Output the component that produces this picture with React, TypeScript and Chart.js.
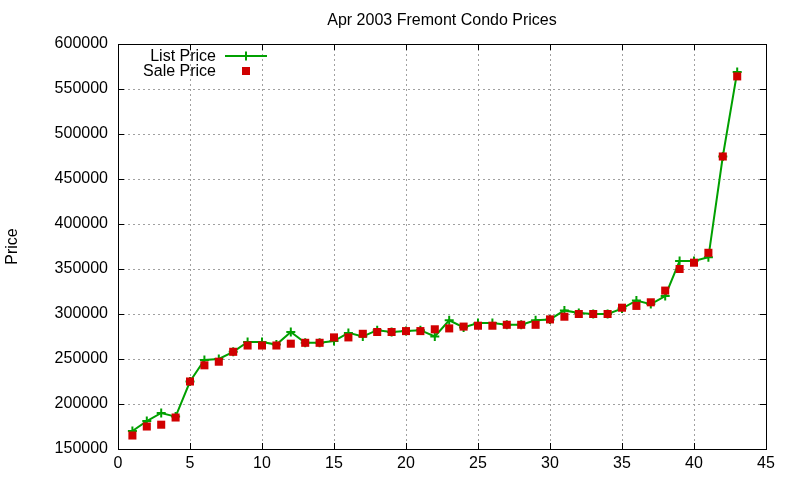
import React, { useEffect, useRef } from "react";
import { Chart, registerables } from "chart.js";

Chart.register(...registerables);

const TITLE = "Apr 2003 Fremont Condo Prices";
const Y_TITLE = "Price";
const LIST_LABEL = "List Price";
const SALE_LABEL = "Sale Price";

// unit number along the x axis (sorted by price)
const units = [
  1, 2, 3, 4, 5, 6, 7, 8, 9, 10, 11, 12, 13, 14, 15, 16, 17, 18, 19, 20, 21,
  22, 23, 24, 25, 26, 27, 28, 29, 30, 31, 32, 33, 34, 35, 36, 37, 38, 39, 40,
  41, 42, 43,
];

const listPrices = [
  170000, 181000, 190000, 186000, 225000, 249000, 250000, 258000, 269000,
  269000, 266000, 280000, 268000, 268000, 270000, 279000, 275000, 282000,
  280000, 281000, 282000, 275000, 293000, 285000, 290000, 290000, 288000,
  288000, 293000, 294000, 304000, 301000, 300000, 300000, 306000, 315000,
  311000, 320000, 359000, 359000, 363000, 475000, 569000,
];

const salePrices = [
  165000, 175000, 177000, 185000, 225000, 243000, 247000, 258000, 265000,
  265000, 265000, 267000, 268000, 268000, 274000, 274000, 278000, 280000,
  280000, 281000, 281000, 283000, 284000, 286000, 287000, 287000, 288000,
  288000, 288000, 294000, 297000, 300000, 300000, 300000, 307000, 309000,
  313000, 326000, 350000, 357000, 368000, 475000, 564000,
];

const GREEN = "#00a000";
const RED = "#d00000";
const FONT = "'Liberation Sans', Arial, sans-serif";

// gnuplot-like frame: border box, inward ticks, title and key
const framePlugin = {
  id: "frame",
  beforeDatasetsDraw(chart: any) {
    const { ctx, chartArea: a, scales } = chart;
    ctx.save();
    ctx.strokeStyle = "#000";
    ctx.lineWidth = 1;
    ctx.strokeRect(a.left + 0.5, a.top + 0.5, a.right - a.left, a.bottom - a.top);
    ctx.beginPath();
    const tl = 6;
    scales.x.ticks.forEach((t: any) => {
      const px = Math.round(scales.x.getPixelForValue(t.value)) + 0.5;
      ctx.moveTo(px, a.bottom);
      ctx.lineTo(px, a.bottom - tl);
      ctx.moveTo(px, a.top);
      ctx.lineTo(px, a.top + tl);
    });
    scales.y.ticks.forEach((t: any) => {
      const py = Math.round(scales.y.getPixelForValue(t.value)) + 0.5;
      ctx.moveTo(a.left, py);
      ctx.lineTo(a.left + tl, py);
      ctx.moveTo(a.right, py);
      ctx.lineTo(a.right - tl, py);
    });
    ctx.stroke();
    ctx.restore();
  },
  afterDraw(chart: any) {
    const { ctx, chartArea: a } = chart;
    ctx.save();
    ctx.fillStyle = "#000";
    ctx.font = `16px ${FONT}`;
    ctx.textBaseline = "middle";
    ctx.textAlign = "center";
    ctx.fillText(TITLE, (a.left + a.right) / 2, 21);

    // key
    const textX = a.left + 98;
    const sampleX = a.left + 128;
    const y1 = a.top + 12;
    const y2 = a.top + 27;
    ctx.textAlign = "right";
    ctx.fillText(chart.data.datasets[0].label, textX, y1 + 1);
    ctx.fillText(chart.data.datasets[1].label, textX, y2 + 1);

    ctx.strokeStyle = GREEN;
    ctx.lineWidth = 2;
    ctx.beginPath();
    ctx.moveTo(sampleX - 21, y1);
    ctx.lineTo(sampleX + 21, y1);
    ctx.moveTo(sampleX, y1 - 4.5);
    ctx.lineTo(sampleX, y1 + 4.5);
    ctx.stroke();

    ctx.fillStyle = RED;
    ctx.fillRect(sampleX - 4, y2 - 4, 8, 8);
    ctx.restore();
  },
};

const PriceChart: React.FC = () => {
  const canvasRef = useRef<HTMLCanvasElement>(null);
  const chartRef = useRef<Chart | null>(null);

  useEffect(() => {
    if (!canvasRef.current) return;
    if (chartRef.current) chartRef.current.destroy();

    const gridColor = "#a0a0a0";

    chartRef.current = new Chart(canvasRef.current, {
      type: "line",
      data: {
        datasets: [
          {
            label: LIST_LABEL,
            data: units.map((u, i) => ({ x: u, y: listPrices[i] })),
            borderColor: GREEN,
            backgroundColor: GREEN,
            borderWidth: 2,
            tension: 0,
            fill: false,
            pointStyle: "cross",
            pointRadius: 4.5,
            pointBorderWidth: 2,
            pointBorderColor: GREEN,
            order: 1,
          },
          {
            label: SALE_LABEL,
            data: units.map((u, i) => ({ x: u, y: salePrices[i] })),
            showLine: false,
            borderColor: RED,
            backgroundColor: RED,
            pointStyle: "rect",
            pointRadius: 5.7,
            pointBorderWidth: 0,
            order: 0,
          },
        ],
      },
      options: {
        responsive: false,
        animation: false,
        layout: { padding: { top: 44, right: 34, left: 0, bottom: 0 } },
        plugins: {
          legend: { display: false },
          title: { display: false },
          tooltip: { enabled: false },
        },
        scales: {
          x: {
            type: "linear",
            min: 0,
            max: 45,
            afterFit: (scale: any) => {
              scale.height = 31;
            },
            ticks: {
              stepSize: 5,
              color: "#000",
              padding: 5,
              maxRotation: 0,
              font: { family: FONT, size: 16 },
            },
            grid: { color: gridColor, drawTicks: false, lineWidth: 1 },
            border: { display: false, dash: [2, 3] },
          },
          y: {
            type: "linear",
            min: 150000,
            max: 600000,
            afterFit: (scale: any) => {
              scale.width = 118;
            },
            ticks: {
              stepSize: 50000,
              color: "#000",
              padding: 10,
              font: { family: FONT, size: 16 },
              callback: (v: any) => String(v),
            },
            grid: { color: gridColor, drawTicks: false, lineWidth: 1 },
            border: { display: false, dash: [2, 3] },
            title: {
              display: true,
              text: Y_TITLE,
              color: "#000",
              font: { family: FONT, size: 16 },
              padding: { top: 3, bottom: 0 },
            },
          },
        },
      },
      plugins: [framePlugin],
    });

    return () => {
      if (chartRef.current) {
        chartRef.current.destroy();
        chartRef.current = null;
      }
    };
  }, []);

  return <canvas ref={canvasRef} width={800} height={480} />;
};

export default function App() {
  return (
    <div
      style={{
        position: "absolute",
        left: 0,
        top: 0,
        width: 800,
        height: 480,
        background: "#fff",
      }}
    >
      <PriceChart />
    </div>
  );
}
